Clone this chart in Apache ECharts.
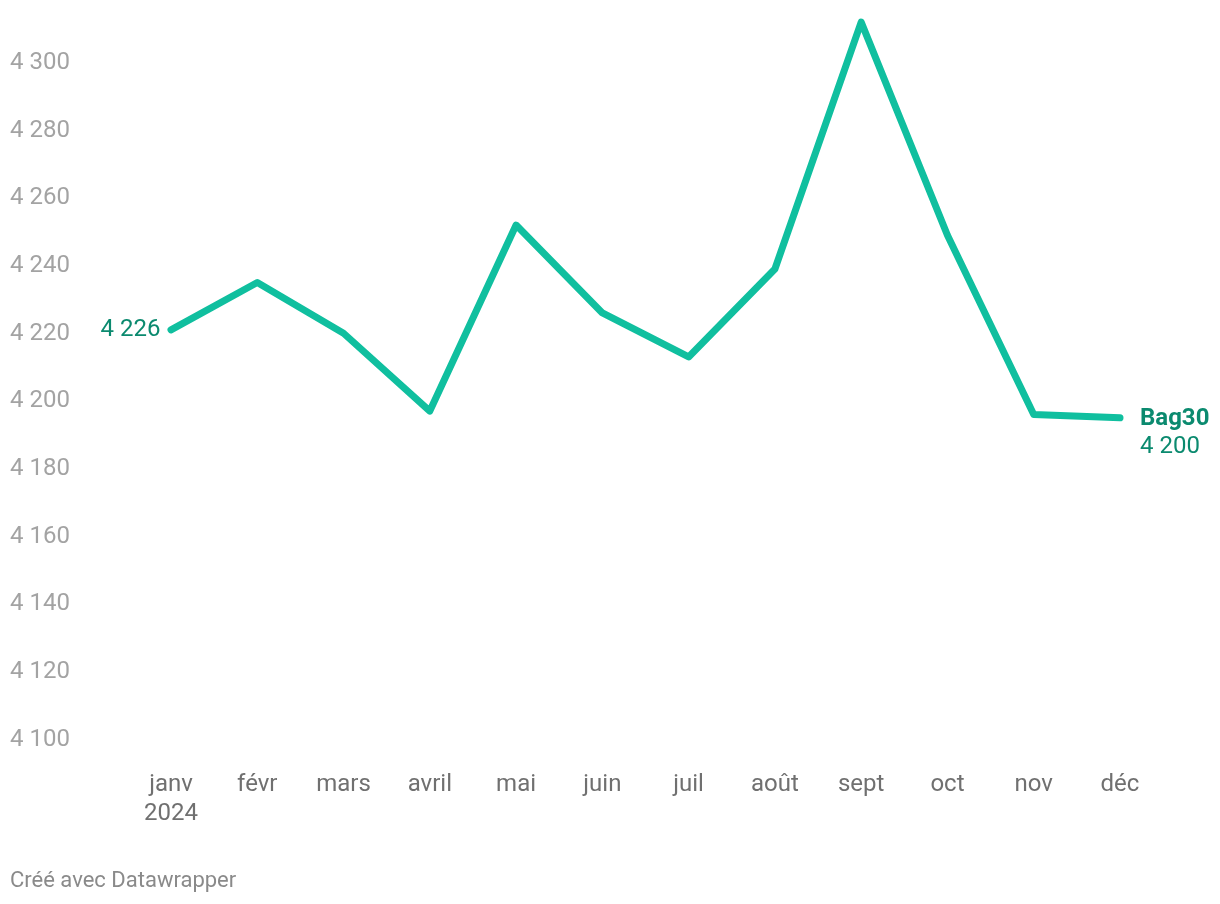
<!DOCTYPE html>
<html>
<head>
<meta charset="utf-8">
<script src="https://cdn.jsdelivr.net/npm/echarts@6/dist/echarts.min.js"></script>
<style>
  html, body { margin: 0; padding: 0; background: #fff; }
  #chart { width: 1220px; height: 904px; }
</style>
</head>
<body>
<div id="chart"></div>
<script>
var months = ["janv\n2024", "févr", "mars", "avril", "mai", "juin", "juil", "août", "sept", "oct", "nov", "déc"];
var bag30 = [4226, 4240, 4225, 4202, 4257, 4231, 4218, 4244, 4317, 4254, 4201, 4200];
var seriesName = "Bag30";

var chartDom = document.getElementById("chart");
var myChart = echarts.init(chartDom);

var fmt = function (v) {
  return String(v).replace(/\B(?=(\d{3})+(?!\d))/g, " ");
};

var option = {
  animation: false,
  textStyle: { fontFamily: "Roboto" },
  title: {
    text: "Créé avec Datawrapper",
    left: 5,
    top: 865,
    textStyle: { fontSize: 22, fontWeight: "normal", color: "#8a8a8a", fontFamily: "Roboto" },
  },
  grid: { left: 171, right: 100, top: 12, bottom: 148 },
  xAxis: {
    type: "category",
    boundaryGap: false,
    data: months,
    axisLine: { show: false },
    axisTick: { show: false },
    axisLabel: {
      color: "#707070",
      fontSize: 24,
      lineHeight: 29,
      margin: 14,
      fontFamily: "Roboto",
    },
  },
  yAxis: {
    type: "value",
    min: 4100,
    max: 4320,
    interval: 20,
    splitLine: { show: false },
    axisLine: { show: false },
    axisTick: { show: false },
    axisLabel: {
      showMaxLabel: false,
      align: "left",
      margin: 161,
      verticalAlign: "bottom",
      lineHeight: 33,
      color: "#a3a3a3",
      fontSize: 24,
      fontFamily: "Roboto",
      formatter: function (v) {
        return v > 4300 ? "" : fmt(v);
      },
    },
  },
  series: [
    {
      name: seriesName,
      type: "line",
      data: bag30,
      showSymbol: false,
      symbol: "none",
      lineStyle: { color: "#10bf9f", width: 7, cap: "round", join: "round" },
      markPoint: {
        symbol: "circle",
        symbolSize: 1,
        itemStyle: { color: "rgba(0,0,0,0)" },
        data: [
          {
            coord: [0, bag30[0]],
            value: bag30[0],
            label: {
              show: true,
              position: "left",
              distance: 10,
              formatter: fmt(bag30[0]),
              color: "#0b8a6f",
              fontSize: 24,
              fontFamily: "Roboto",
            },
          },
        ],
      },
      endLabel: {
        show: true,
        distance: 20,
        offset: [0, 15],
        formatter: function (p) {
          return "{n|" + seriesName + "}\n{v|" + fmt(p.value) + "}";
        },
        rich: {
          n: { fontSize: 24, fontWeight: "bold", color: "#0b8a6f", lineHeight: 28, fontFamily: "Roboto" },
          v: { fontSize: 24, color: "#0b8a6f", lineHeight: 28, fontFamily: "Roboto" },
        },
      },
    },
  ],
};

myChart.setOption(option);
window.addEventListener("resize", myChart.resize);
</script>
</body>
</html>
